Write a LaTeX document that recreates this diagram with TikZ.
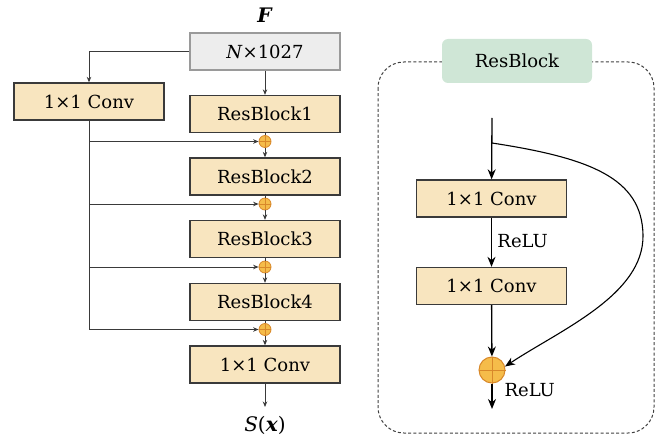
\documentclass[tikz,border=0pt]{standalone}
\usepackage{fontspec}
\setmainfont{DejaVu Serif}
\usetikzlibrary{arrows.meta}
\definecolor{boxfill}{HTML}{F8E5BF}
\definecolor{boxline}{HTML}{3A3A3A}
\definecolor{grayfill}{HTML}{EDEDED}
\definecolor{grayline}{HTML}{9A9A9A}
\definecolor{greenfill}{HTML}{CFE6D6}
\definecolor{plusfill}{HTML}{F5BC4A}
\definecolor{plusline}{HTML}{D8882A}
\tikzset{
  txt/.style={font=\fontsize{18}{21}\selectfont, text=black},
  bigtxt/.style={font=\fontsize{20}{23}\selectfont, text=black},
  box/.style={txt, draw=boxline, fill=boxfill, line width=1.3pt, minimum width=150pt, minimum height=37pt, inner sep=0pt},
  inbox/.style={txt, draw=grayline, fill=grayfill, line width=1.3pt, minimum width=150pt, minimum height=37pt, inner sep=0pt},
  lline/.style={draw=boxline, line width=0.9pt},
  larr/.style={lline, -{Stealth[length=5.5pt,width=4.5pt]}},
  rline/.style={draw=black, line width=1.3pt},
  rarr/.style={rline, -{Stealth[length=10pt,width=8pt]}},
}
\newcommand{\plusnode}[4]{%
  \node[circle, draw=plusline, fill=plusfill, line width=0.8pt, minimum size=#3, inner sep=0pt] (#1) at #2 {};
  \draw[plusline, line width=#4] (#1.north) -- (#1.south) (#1.west) -- (#1.east);
}
\begin{document}
\begin{tikzpicture}[x=1pt,y=-1pt]
\useasboundingbox (0,0) rectangle (663,438);

% ---------- left network ----------
\node[bigtxt] (F) at (265,15) {\textbf{\textit{F}}};
\node[inbox] (inp) at (265,51.5) {\textit{N}×1027};
\node[box] (lconv) at (89,101.5) {1×1 Conv};
\node[box] (rb1) at (265,114) {ResBlock1};
\node[box] (rb2) at (265,176.5) {ResBlock2};
\node[box] (rb3) at (265,239) {ResBlock3};
\node[box] (rb4) at (265,302) {ResBlock4};
\node[box] (oconv) at (265,364.5) {1×1 Conv};
\node[bigtxt] (S) at (265,425) {\textit{S}(\textbf{\textit{x}})};
\coordinate (out) at (265,407);

\plusnode{p1}{(265,141.5)}{12pt}{0.7pt}
\plusnode{p2}{(265,204)}{12pt}{0.7pt}
\plusnode{p3}{(265,267)}{12pt}{0.7pt}
\plusnode{p4}{(265,329.5)}{12pt}{0.7pt}

\draw[larr] (inp) -- (rb1);
\draw[larr] (inp.west) -| (lconv.north);
\draw[lline] (rb1) -- (p1);
\draw[larr] (p1) -- (rb2);
\draw[lline] (rb2) -- (p2);
\draw[larr] (p2) -- (rb3);
\draw[lline] (rb3) -- (p3);
\draw[larr] (p3) -- (rb4);
\draw[lline] (rb4) -- (p4);
\draw[larr] (p4) -- (oconv);
\draw[larr] (oconv) -- (out);

\coordinate (j4) at (lconv.south |- p4);
\draw[lline] (lconv.south) -- (j4);
\draw[larr] (lconv.south |- p1) -- (p1);
\draw[larr] (lconv.south |- p2) -- (p2);
\draw[larr] (lconv.south |- p3) -- (p3);
\draw[larr] (j4) -- (p4);

% ---------- right ResBlock detail ----------
\draw[draw=black!75, line width=1pt, dash pattern=on 3pt off 2.2pt, rounded corners=26pt] (378,62) rectangle (654,433);
\node[txt, fill=greenfill, rounded corners=6pt, minimum width=150pt, minimum height=44pt, inner sep=0pt] (title) at (517,61) {ResBlock};

\coordinate (rin) at (492,118);
\coordinate (rsplit) at (492,143);
\node[box] (c1) at (491.5,198.5) {1×1 Conv};
\node[box] (c2) at (491.5,286) {1×1 Conv};
\node[circle, draw=plusline, fill=plusfill, line width=1pt, minimum size=26pt, inner sep=0pt] (add) at (492,370) {};
\draw[plusline, line width=0.9pt] (add.north) -- (add.south) (add.west) -- (add.east);
\coordinate (rout) at (492,409);

\draw[rarr] (rin) -- (c1);
\draw[rarr] (c1) -- node[txt, right, xshift=2pt, yshift=1pt] (relu1) {ReLU} (c2);
\draw[rarr] (c2) -- (add);
\draw[rarr] (add) -- (rout);
\node[txt, anchor=west] (relu2) at (501,390) {ReLU};
\draw[rarr, line width=1.1pt] (rsplit) .. controls (590,158) and (642,178) .. (643,235)
   .. controls (644,295) and (560,330) .. (add.15);
\end{tikzpicture}
\end{document}
